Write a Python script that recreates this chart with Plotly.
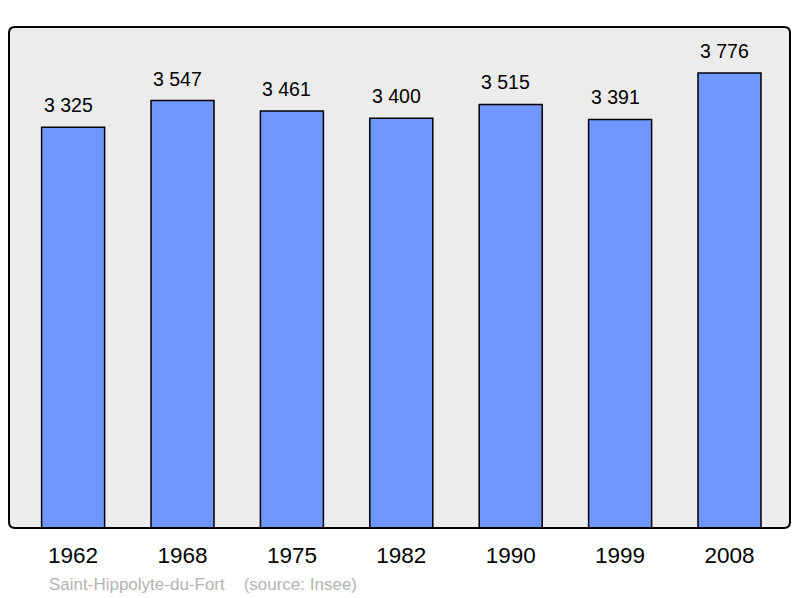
import plotly.graph_objects as go

years = ["1962", "1968", "1975", "1982", "1990", "1999", "2008"]
population = [3325, 3547, 3461, 3400, 3515, 3391, 3776]
value_labels = ["3 325", "3 547", "3 461", "3 400", "3 515", "3 391", "3 776"]
source_text = "Saint-Hippolyte-du-Fort\u00a0\u00a0\u00a0\u00a0(source: Insee)"

FONT = "Liberation Sans, Arial, sans-serif"
W, H = 800, 598
L, R, T, B = 9, 10, 27, 70
pw, ph = W - L - R, H - T - B

fig = go.Figure()
fig.add_trace(go.Bar(
    x=list(range(len(years))), y=population,
    width=0.576,
    marker=dict(color="#7096ff", line=dict(color="#000000", width=1.5)),
    hoverinfo="skip",
))

for i, (v, lab) in enumerate(zip(population, value_labels)):
    fig.add_annotation(x=i, y=v, text=lab, showarrow=False, yanchor="bottom",
                       yshift=9, xshift=-5,
                       font=dict(size=19.5, color="#000000", family=FONT))

# rounded border
rx, ry = 6 / pw, 6 / ph
path = (f"M {rx},0 L {1-rx},0 Q 1,0 1,{ry} L 1,{1-ry} Q 1,1 {1-rx},1 "
        f"L {rx},1 Q 0,1 0,{1-ry} L 0,{ry} Q 0,0 {rx},0 Z")
fig.add_shape(type="path", xref="paper", yref="paper", path=path,
              line=dict(color="#000000", width=2), layer="above")

fig.add_annotation(xref="paper", yref="paper", x=(47 - L) / pw, y=0, yshift=-56,
                   xanchor="left", yanchor="middle", text=source_text, showarrow=False,
                   font=dict(size=17, color="#b3b3b3", family=FONT))

fig.update_layout(
    width=W, height=H,
    margin=dict(l=L, r=R, t=T, b=B),
    paper_bgcolor="#ffffff",
    plot_bgcolor="#ececec",
    showlegend=False,
    xaxis=dict(range=[-0.586, 6.553], tickmode="array", tickvals=list(range(len(years))),
               ticktext=years, showgrid=False, zeroline=False, ticks="",
               ticklabelstandoff=11,
               tickfont=dict(size=22.5, color="#000000", family=FONT)),
    yaxis=dict(range=[0, 4158], showgrid=False, zeroline=False, showticklabels=False, ticks=""),
)

fig.write_html("out.html", config={"displayModeBar": False},
               post_script="document.body.style.margin='0';document.body.style.overflow='hidden';")
